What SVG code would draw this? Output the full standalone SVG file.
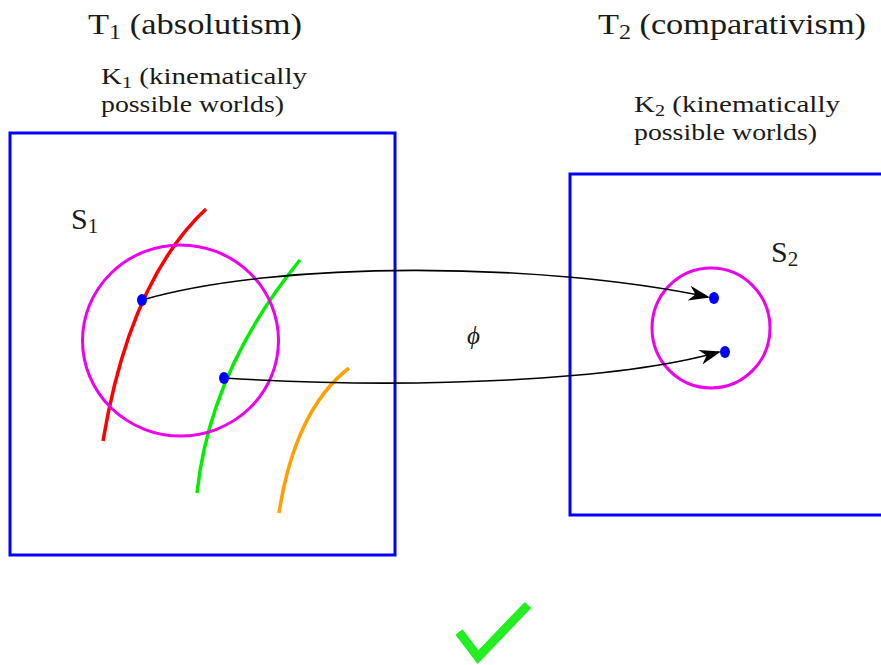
<svg xmlns="http://www.w3.org/2000/svg" width="881" height="665" viewBox="0 0 881 665">
<defs>
<style>
.lbl{font-family:"Liberation Serif","Times New Roman",serif;fill:#1a1a1a}
.box{fill:none;stroke:#0000ff;stroke-width:3}
.set{fill:none;stroke:#ee00ee;stroke-width:3}
.curve{fill:none;stroke-width:3.5}
.dot{fill:#0000ff}
.map{fill:none;stroke:#000;stroke-width:1.6}
</style>
<marker id="stealth" viewBox="0 0 20 14" refX="18" refY="7" markerWidth="22" markerHeight="15" markerUnits="userSpaceOnUse" orient="auto">
<path d="M0,0 L20,7 L0,14 L6,7 Z" fill="#000"/>
</marker>
</defs>
<g id="title1"><text class="lbl" x="88" y="34" font-size="30" textLength="214" lengthAdjust="spacingAndGlyphs">T<tspan font-size="21" dy="5">1</tspan><tspan dy="-5"> (absolutism)</tspan></text></g>
<g id="title2"><text class="lbl" x="598" y="34" font-size="30" textLength="268" lengthAdjust="spacingAndGlyphs">T<tspan font-size="21" dy="5">2</tspan><tspan dy="-5"> (comparativism)</tspan></text></g>
<g id="K1">
<rect class="box" x="10" y="133" width="385" height="422"/>
<text class="lbl" x="101" y="84" font-size="23" textLength="206" lengthAdjust="spacingAndGlyphs">K<tspan font-size="16" dy="4">1</tspan><tspan dy="-4"> (kinematically</tspan></text>
<text class="lbl" x="101" y="112" font-size="23" textLength="183" lengthAdjust="spacingAndGlyphs">possible worlds)</text>
</g>
<g id="K2">
<rect class="box" x="570" y="174" width="330" height="341"/>
<text class="lbl" x="634" y="112" font-size="23" textLength="206" lengthAdjust="spacingAndGlyphs">K<tspan font-size="16" dy="4">2</tspan><tspan dy="-4"> (kinematically</tspan></text>
<text class="lbl" x="634" y="140" font-size="23" textLength="183" lengthAdjust="spacingAndGlyphs">possible worlds)</text>
</g>
<g id="curves">
<path class="curve" stroke="#ff0000" d="M103,441 Q130,280 206,209"/>
<path class="curve" stroke="#00ee00" d="M197,493 Q210,370 300,260"/>
<path class="curve" stroke="#ffa000" d="M279,513 Q295,410 349,368"/>
</g>
<g id="S1">
<ellipse class="set" cx="180.5" cy="340.5" rx="98" ry="95.5"/>
<text class="lbl" x="71" y="229" font-size="30">S<tspan font-size="21" dy="4">1</tspan></text>
</g>
<g id="S2">
<ellipse class="set" cx="711" cy="328" rx="59" ry="60"/>
<text class="lbl" x="771" y="262" font-size="30">S<tspan font-size="21" dy="4">2</tspan></text>
</g>
<g id="connectors">
<path class="map" d="M142,300 C280,260 540,262 708,297" marker-end="url(#stealth)"/>
<path class="map" d="M224,378 C420,390 620,380 719,352" marker-end="url(#stealth)"/>
<text class="lbl" x="467" y="344" font-size="25" font-style="italic">ϕ</text>
</g>
<g id="points">
<ellipse class="dot" cx="142" cy="300" rx="5" ry="6"/>
<ellipse class="dot" cx="224" cy="378" rx="5" ry="6"/>
<ellipse class="dot" cx="714" cy="298" rx="5" ry="6"/>
<ellipse class="dot" cx="725" cy="352" rx="5" ry="6"/>
</g>
<g id="check"><polyline points="459,632 478,657 528,605" fill="none" stroke="#22ee22" stroke-width="9"/></g>
</svg>
